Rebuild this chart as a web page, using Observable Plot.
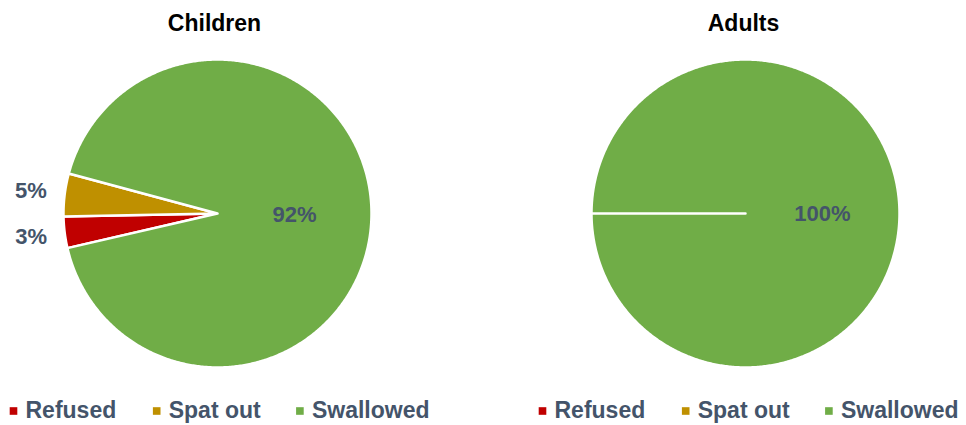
<!DOCTYPE html>
<html>
<head>
<meta charset="utf-8">
<script src="https://cdn.jsdelivr.net/npm/d3@7"></script>
<script src="https://cdn.jsdelivr.net/npm/@observablehq/plot@0.6"></script>
<style>
  html, body { margin: 0; padding: 0; background: #ffffff; }
  #chart { width: 966px; height: 425px; }
</style>
</head>
<body>
<div id="chart"></div>
<script>
// ---- data ----
const groups = ["Children", "Adults"];
const categories = ["Refused", "Spat out", "Swallowed"];
const childrenValues = [3.3, 4.5, 92.2];
const adultsValues = [0, 0, 100];
const colors = ["#C00000", "#BF9000", "#70AD47"];

// ---- layout ----
const W = 966, H = 425;
const FONT = "'Liberation Sans', Arial, sans-serif";
const LABEL_COLOR = "#44546A";
const pies = [
  {group: "Children", values: childrenValues, cx: 217, cy: 213, r: 154, start: 257, titleX: 214, legendX: 13},
  {group: "Adults", values: adultsValues, cx: 745, cy: 213, r: 154, start: 270, titleX: 743, legendX: 542}
];

const toRad = d => d * Math.PI / 180;
const pt = (p, deg, rr) => ({x: p.cx + rr * Math.sin(toRad(deg)), y: p.cy - rr * Math.cos(toRad(deg))});

const slicePoints = [];
const labelRows = [];
const titleRows = [];
const legendRows = [];

for (const p of pies) {
  const total = d3.sum(p.values);
  let a = p.start;
  p.values.forEach((v, i) => {
    const span = v / total * 360;
    const key = p.group + "-" + categories[i];
    if (v > 0) {
      const a0 = a, a1 = a + span;
      const n = Math.max(2, Math.ceil(span / 0.5));
      slicePoints.push({key, category: categories[i], x: p.cx, y: p.cy});
      for (let k = 0; k <= n; k++) {
        const q = pt(p, a0 + (a1 - a0) * k / n, p.r);
        slicePoints.push({key, category: categories[i], x: q.x, y: q.y});
      }
      slicePoints.push({key, category: categories[i], x: p.cx, y: p.cy});
      const mid = (a0 + a1) / 2;
      const share = v / total;
      const lp = pt(p, mid, share < 0.1 ? p.r * 1.22 : p.r * 0.5);
      labelRows.push({x: lp.x, y: lp.y, text: Math.round(share * 100) + "%"});
    }
    a += span;
  });
  titleRows.push({x: p.titleX, y: 23.5, text: p.group});
  categories.forEach((c, i) => legendRows.push({x: p.legendX + i * 143.2, y: 410.5, category: c}));
}

const chart = Plot.plot({
  width: W,
  height: H,
  margin: 0,
  x: {domain: [0, W], range: [0, W], axis: null},
  y: {domain: [0, H], range: [0, H], axis: null},
  color: {domain: categories, range: colors},
  style: {fontFamily: FONT, background: "#ffffff", overflow: "visible"},
  marks: [
    Plot.line(slicePoints, {x: "x", y: "y", z: "key", fill: "category", stroke: "#ffffff", strokeWidth: 2.5, strokeLinejoin: "round", curve: "linear"}),
    Plot.text(labelRows, {x: "x", y: "y", text: "text", fill: LABEL_COLOR, fontSize: 22, fontWeight: "bold", fontFamily: FONT}),
    Plot.text(titleRows, {x: "x", y: "y", text: "text", fill: "#000000", fontSize: 23, fontWeight: "bold", fontFamily: FONT}),
    Plot.dot(legendRows, {x: "x", y: "y", symbol: "square", r: 4.3, fill: "category"}),
    Plot.text(legendRows, {x: d => d.x + 12, y: "y", text: "category", textAnchor: "start", fill: LABEL_COLOR, fontSize: 23, fontWeight: "bold", fontFamily: FONT})
  ]
});
document.getElementById("chart").appendChild(chart);
</script>
</body>
</html>
